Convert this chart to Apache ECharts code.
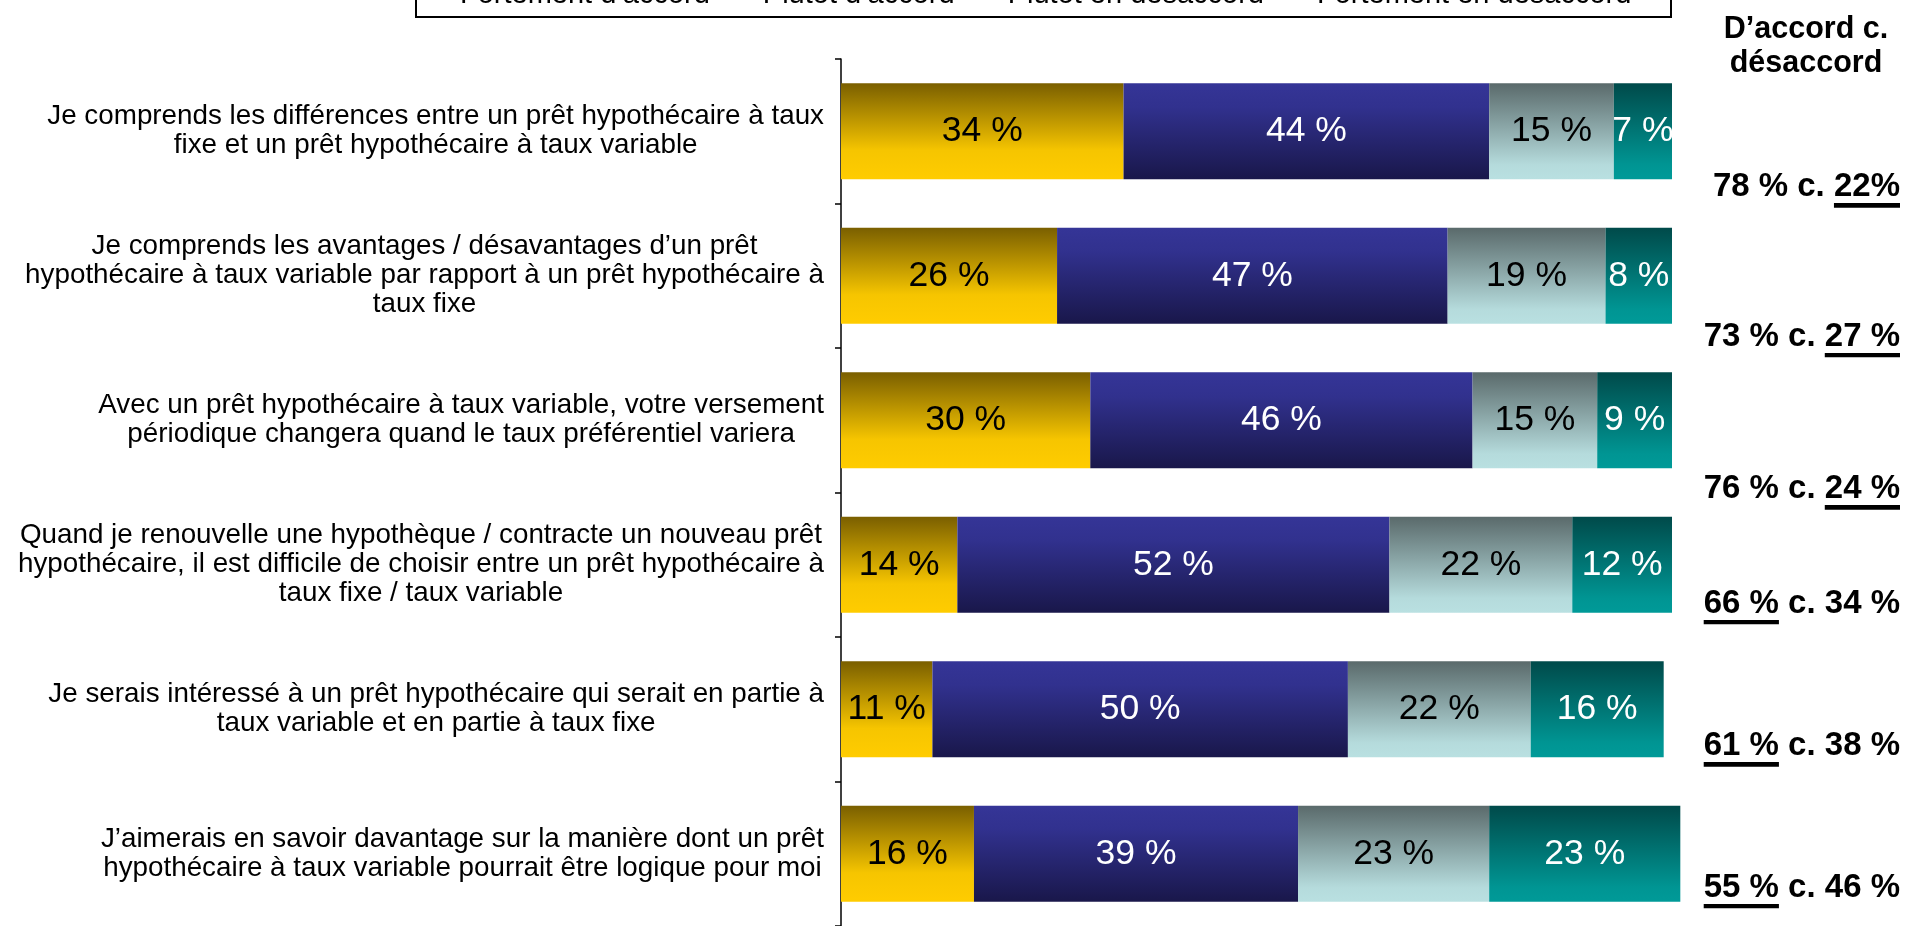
<!DOCTYPE html>
<html>
<head>
<meta charset="utf-8">
<script src="https://cdn.jsdelivr.net/npm/echarts@6/dist/echarts.min.js"></script>
<style>
  html, body { margin: 0; padding: 0; background: #fff; }
  #main { width: 1920px; height: 926px; }
</style>
</head>
<body>
<div id="main"></div>
<script>
// questions, top to bottom
var categories = [
  'Je comprends les différences entre un prêt hypothécaire à taux\nfixe et un prêt hypothécaire à taux variable',
  'Je comprends les avantages / désavantages d’un prêt\nhypothécaire à taux variable par rapport à un prêt hypothécaire à\ntaux fixe',
  'Avec un prêt hypothécaire à taux variable, votre versement\npériodique changera quand le taux préférentiel variera',
  'Quand je renouvelle une hypothèque / contracte un nouveau prêt\nhypothécaire, il est difficile de choisir entre un prêt hypothécaire à\ntaux fixe / taux variable',
  'Je serais intéressé à un prêt hypothécaire qui serait en partie à\ntaux variable et en partie à taux fixe',
  'J’aimerais en savoir davantage sur la manière dont un prêt\nhypothécaire à taux variable pourrait être logique pour moi'
];
var seriesNames = ['Fortement d’accord', 'Plutôt d’accord', 'Plutôt en désaccord', 'Fortement en désaccord'];
var fortAccord = [34, 26, 30, 14, 11, 16];
var plutotAccord = [44, 47, 46, 52, 50, 39];
var plutotDesaccord = [15, 19, 15, 22, 22, 23];
var fortDesaccord = [7, 8, 9, 12, 16, 23];

// right column "D'accord c. désaccord"
var accordText = ['78 %', '73 %', '76 %', '66 %', '61 %', '55 %'];
var desaccordText = ['22%', '27 %', '24 %', '34 %', '38 %', '46 %'];
var underlined = ['d', 'd', 'd', 'a', 'a', 'a'];

var FONT = '"Liberation Sans", Arial, sans-serif';

// how far below the band centre each summary sits
var summaryDrop = [58, 63, 71, 41, 39, 36];

function grad(stops) {
  return new echarts.graphic.LinearGradient(0, 0, 0, 1, stops.map(function (s) {
    return { offset: s[0], color: s[1] };
  }));
}

var fills = [
  grad([[0, '#7a5f00'], [0.7, '#f6c500'], [1, '#ffcc00']]),
  grad([[0, '#353597'], [0.25, '#31318e'], [1, '#19174a']]),
  grad([[0, '#5a6a6b'], [0.85, '#b5dbdc'], [1, '#b9e0e1']]),
  grad([[0, '#004a4a'], [0.85, '#009593'], [1, '#009a98']])
];
var labelColors = ['#000', '#fff', '#000', '#fff'];
var values = [fortAccord, plutotAccord, plutotDesaccord, fortDesaccord];

var underline = {
  type: 'linear', x: 0, y: 0, x2: 0, y2: 1,
  colorStops: [
    { offset: 0, color: 'rgba(0,0,0,0)' },
    { offset: 0.88, color: 'rgba(0,0,0,0)' },
    { offset: 0.88, color: '#000' },
    { offset: 1, color: '#000' }
  ]
};

var summaryRich = {
  t: { fontFamily: FONT, fontWeight: 'bold', fontSize: 33, color: '#000', padding: [0, 0, 4, 0] },
  u: { fontFamily: FONT, fontWeight: 'bold', fontSize: 33, color: '#000', padding: [0, 0, 4, 0], backgroundColor: underline }
};
summaryDrop.forEach(function (d, i) {
  summaryRich['g' + i] = { height: d * 2, fontSize: 2, lineHeight: d * 2 };
});

var myChart = echarts.init(document.getElementById('main'));

var option = {
  animation: false,
  title: {
    text: 'D’accord c.\ndésaccord',
    left: 1806,
    top: 13,
    padding: 0,
    textAlign: 'center',
    textStyle: { fontFamily: FONT, fontWeight: 'bold', fontSize: 30.5, lineHeight: 34, color: '#000' }
  },
  legend: {
    data: seriesNames,
    left: 450,
    top: -25,
    itemWidth: 0,
    itemHeight: 0,
    itemGap: 48,
    textStyle: { fontFamily: FONT, fontSize: 29, color: '#000' }
  },
  graphic: [{
    type: 'rect',
    shape: { x: 416, y: -20, width: 1255, height: 37 },
    style: { fill: 'none', stroke: '#000', lineWidth: 2 }
  }],
  grid: { left: 841, top: 59, width: 831, height: 869 },
  xAxis: {
    type: 'value', min: 0, max: 100, show: false
  },
  yAxis: [{
    type: 'category',
    data: categories,
    inverse: true,
    axisLine: { show: true, lineStyle: { color: '#000', width: 1.5 } },
    axisTick: { show: true, inside: false, length: 6, lineStyle: { color: '#000', width: 1.5 } },
    axisLabel: {
      interval: 0,
      align: 'right',
      margin: 17,
      formatter: function (v) {
        return v.split('\n').map(function (l) { return '{c|' + l + '}'; }).join('\n');
      },
      rich: { c: { align: 'center', fontFamily: FONT, fontSize: 27.8, lineHeight: 29, color: '#000' } }
    }
  }, {
    type: 'category',
    data: categories,
    inverse: true,
    position: 'right',
    axisLine: { show: false },
    axisTick: { show: false },
    axisLabel: {
      interval: 0,
      align: 'right',
      margin: 228,
      formatter: function (v, i) {
        var a = underlined[i] === 'a' ? '{u|' + accordText[i] + '}' : '{t|' + accordText[i] + '}';
        var d = underlined[i] === 'd' ? '{u|' + desaccordText[i] + '}' : '{t|' + desaccordText[i] + '}';
        return '{g' + i + '| }\n' + a + '{t| c. }' + d;
      },
      rich: summaryRich
    }
  }],
  series: seriesNames.map(function (name, k) {
    return {
      name: name,
      type: 'bar',
      stack: 'total',
      barWidth: 96,
      clip: false,
      data: values[k],
      itemStyle: { color: fills[k] },
      label: {
        show: true,
        position: 'inside',
        formatter: '{c} %',
        fontFamily: FONT,
        fontSize: 35.5,
        color: labelColors[k]
      }
    };
  })
};

myChart.setOption(option);
</script>
</body>
</html>
